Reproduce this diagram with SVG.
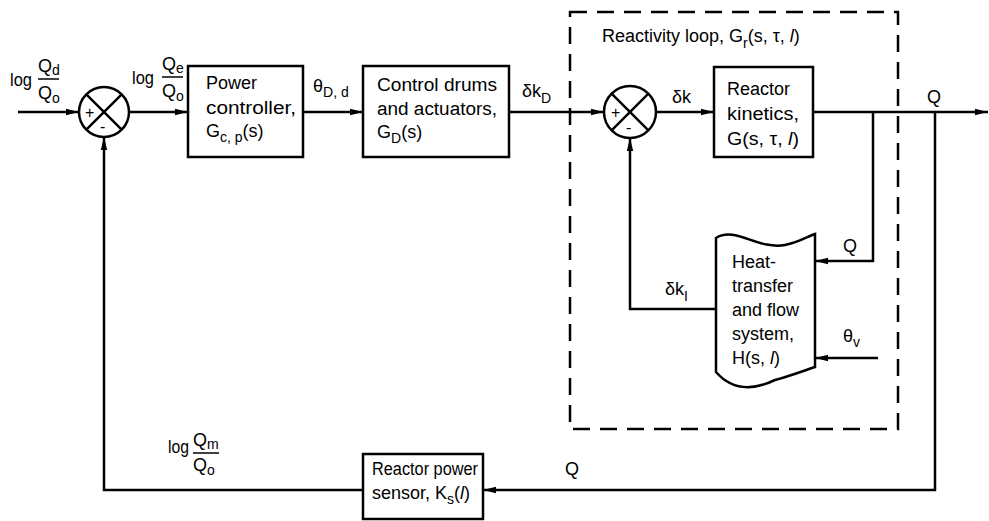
<svg xmlns="http://www.w3.org/2000/svg" width="989" height="521" viewBox="0 0 989 521">
<style>
.b{fill:#fff;stroke:#000;stroke-width:2.5}
.c{fill:none;stroke:#000;stroke-width:2.5}
.w{fill:none;stroke:#000;stroke-width:2.5;marker-end:url(#a)}
.d{fill:none;stroke:#000;stroke-width:2.5;stroke-dasharray:17 10}
text{font-family:"Liberation Sans",Arial,sans-serif;font-size:18px;fill:#000}
.s{font-size:14px}
.p{font-size:16px}
.f{stroke:#000;stroke-width:1.5}
</style>
<defs>
<marker id="a" markerUnits="userSpaceOnUse" markerWidth="14" markerHeight="8" refX="13" refY="4" orient="auto">
<path d="M0,0.8 L13,4 L0,7.2 z" fill="#000"/>
</marker>
</defs>
<g id="connectors">
<path class="w" d="M18,112 H79"/>
<path class="w" d="M129,112 H188"/>
<path class="w" d="M303,112 H363"/>
<path class="w" d="M509,112 H604"/>
<path class="w" d="M656,112 H714"/>
<path class="w" d="M813,112 H988"/>
<path class="w" d="M873,112 V261 H815"/>
<path class="w" d="M878,358 H815"/>
<path class="w" d="M716,309 H630 V138"/>
<path class="w" d="M935,112 V490 H483"/>
<path class="w" d="M363,490 H104 V137"/>
</g>
<g id="reactivity-loop">
<rect class="d" x="570" y="12" width="328" height="417"/>
<text x="602" y="42">Reactivity loop,  G<tspan class="s" dy="6">r</tspan><tspan dy="-6">(s, τ, </tspan><tspan font-style="italic">l</tspan>)</text>
</g>
<g id="sum1">
<circle class="b" cx="104" cy="112" r="25"/>
<path class="c" d="M86.3,94.3 L121.7,129.7 M121.7,94.3 L86.3,129.7"/>
<text x="85" y="118" class="p">+</text>
<text x="100" y="132" class="p">-</text>
</g>
<g id="power-controller">
<rect class="b" x="188" y="66" width="115" height="91"/>
<text x="206" y="89">Power</text>
<text x="206" y="114" textLength="90" lengthAdjust="spacingAndGlyphs">controller,</text>
<text x="206" y="137">G<tspan class="s" dy="5">c, p</tspan><tspan dy="-5">(s)</tspan></text>
</g>
<g id="control-drums">
<rect class="b" x="363" y="66" width="146" height="91"/>
<text x="377" y="91" textLength="120" lengthAdjust="spacingAndGlyphs">Control drums</text>
<text x="377" y="115" textLength="120" lengthAdjust="spacingAndGlyphs">and actuators,</text>
<text x="377" y="138">G<tspan class="s" dy="5">D</tspan><tspan dy="-5">(s)</tspan></text>
</g>
<g id="sum2">
<circle class="b" cx="630" cy="112" r="26"/>
<path class="c" d="M611.6,93.6 L648.4,130.4 M648.4,93.6 L611.6,130.4"/>
<text x="611" y="118" class="p">+</text>
<text x="626" y="133" class="p">-</text>
</g>
<g id="reactor-kinetics">
<rect class="b" x="714" y="67" width="99" height="90"/>
<text x="727" y="95">Reactor</text>
<text x="727" y="120" textLength="72" lengthAdjust="spacingAndGlyphs">kinetics,</text>
<text x="727" y="145" textLength="72" lengthAdjust="spacingAndGlyphs">G(s, τ, <tspan font-style="italic">l</tspan>)</text>
</g>
<g id="heat-transfer">
<path class="b" d="M716,238 C735,226 758,250 785,245 C800,242 808,236 815,234 V367 C800,372 790,376 775,380 C750,392 730,388 716,372 Z"/>
<text x="732" y="268">Heat-</text>
<text x="732" y="292">transfer</text>
<text x="732" y="316">and flow</text>
<text x="732" y="340">system,</text>
<text x="732" y="364">H(s, <tspan font-style="italic">l</tspan>)</text>
</g>
<g id="power-sensor">
<rect class="b" x="363" y="454" width="120" height="65"/>
<text x="372" y="475" textLength="106" lengthAdjust="spacingAndGlyphs">Reactor power</text>
<text x="372" y="499">sensor, K<tspan class="s" dy="5">s</tspan><tspan dy="-5">(</tspan><tspan font-style="italic">l</tspan>)</text>
</g>
<g id="labels">
<text x="10" y="86" textLength="22" lengthAdjust="spacingAndGlyphs">log</text>
<text x="38" y="72">Q<tspan class="s" dy="3">d</tspan></text>
<line class="f" x1="38" y1="79" x2="59" y2="79"/>
<text x="38" y="99">Q<tspan class="s" dy="4">o</tspan></text>
<text x="132" y="84" textLength="22" lengthAdjust="spacingAndGlyphs">log</text>
<text x="162" y="70">Q<tspan class="s" dy="3">e</tspan></text>
<line class="f" x1="162" y1="77" x2="183" y2="77"/>
<text x="162" y="97">Q<tspan class="s" dy="4">o</tspan></text>
<text x="313" y="92">θ<tspan class="s" dy="5">D, d</tspan></text>
<text x="522" y="97">δk<tspan class="s" dy="6">D</tspan></text>
<text x="672" y="103">δk</text>
<text x="927" y="103">Q</text>
<text x="843" y="252">Q</text>
<text x="665" y="295">δk<tspan class="s" dy="6">I</tspan></text>
<text x="843" y="342">θ<tspan class="s" dy="5">v</tspan></text>
<text x="565" y="475">Q</text>
<text x="168" y="453" textLength="21" lengthAdjust="spacingAndGlyphs">log</text>
<text x="193" y="446">Q<tspan class="s" dy="3">m</tspan></text>
<line class="f" x1="193" y1="453" x2="219" y2="453"/>
<text x="193" y="471">Q<tspan class="s" dy="4">o</tspan></text>
</g>
</svg>
